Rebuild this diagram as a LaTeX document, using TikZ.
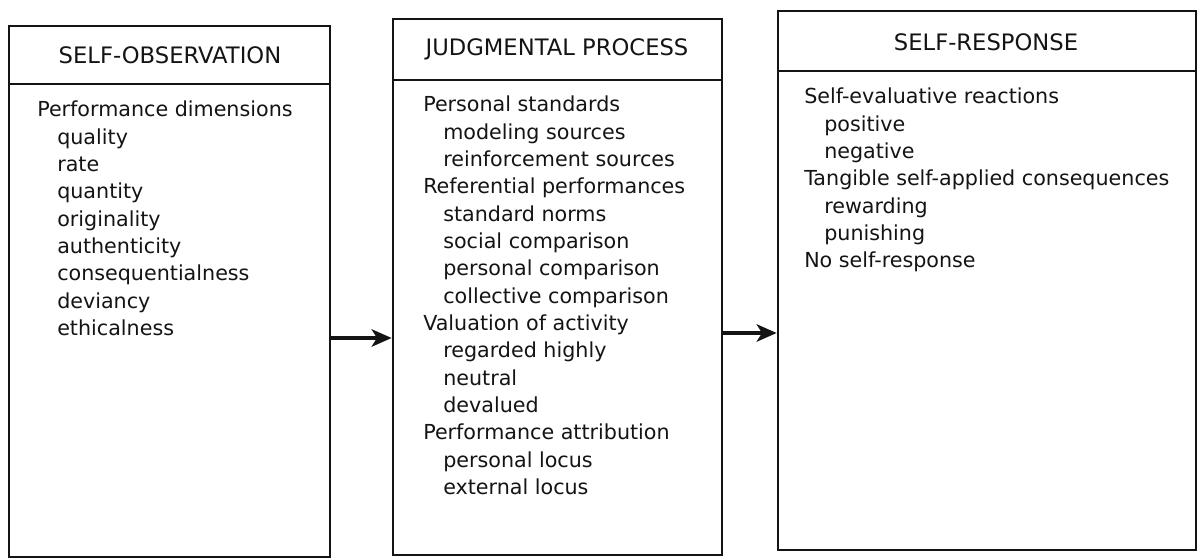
\documentclass[tikz,border=0pt]{standalone}
\usepackage{fontspec}
\setmainfont{DejaVu Sans}
\usetikzlibrary{arrows.meta,fit}
\definecolor{ink}{rgb}{0.08,0.08,0.08}
\newcommand\itemgap{\hspace*{15pt}}
\begin{document}
\begin{tikzpicture}[x=0.75pt,y=-0.75pt,
  stage/.style={draw=ink,line width=2pt,inner sep=0pt},
  rule/.style={draw=ink,line width=1.8pt},
  title/.style={font=\fontsize{17}{20}\selectfont,text=ink,inner sep=0pt},
  items/.style={font=\fontsize{15.5}{20.5}\selectfont,text=ink,align=left,
                anchor=north west,inner sep=0pt},
  flow/.style={draw=ink,line width=2.6pt,-{Stealth[length=15pt,width=13pt,inset=4pt]}}]
\useasboundingbox[fill=white] (0,0) rectangle (1203,560);

% three stage boxes
\node[stage, fit={(9,26) (330,557)}] (obs) {};
\node[stage, fit={(393,19) (722,555)}] (jud) {};
\node[stage, fit={(778,11) (1196,550)}] (resp) {};

% header dividers
\draw[rule] (obs.west |- 0,84) -- (obs.east |- 0,84);
\draw[rule] (jud.west |- 0,80) -- (jud.east |- 0,80);
\draw[rule] (resp.west |- 0,71) -- (resp.east |- 0,71);

% headers
\node[title] (obsTitle) at (170,55) {SELF-OBSERVATION};
\node[title] (judTitle) at (557,49) {JUDGMENTAL PROCESS};
\node[title] (respTitle) at (986,42) {SELF-RESPONSE};

% contents
\node[items] (obsList) at (37,101) {Performance dimensions\\
  \itemgap quality\\
  \itemgap rate\\
  \itemgap quantity\\
  \itemgap originality\\
  \itemgap authenticity\\
  \itemgap consequentialness\\
  \itemgap deviancy\\
  \itemgap ethicalness};

\node[items] (judList) at (423,96) {Personal standards\\
  \itemgap modeling sources\\
  \itemgap reinforcement sources\\
  Referential performances\\
  \itemgap standard norms\\
  \itemgap social comparison\\
  \itemgap personal comparison\\
  \itemgap collective comparison\\
  Valuation of activity\\
  \itemgap regarded highly\\
  \itemgap neutral\\
  \itemgap devalued\\
  Performance attribution\\
  \itemgap personal locus\\
  \itemgap external locus};

\node[items] (respList) at (804,88) {Self-evaluative reactions\\
  \itemgap positive\\
  \itemgap negative\\
  Tangible self-applied consequences\\
  \itemgap rewarding\\
  \itemgap punishing\\
  No self-response};

% flow between stages
\draw[flow] (obs.east |- 0,338) -- (jud.west |- 0,338);
\draw[flow] (jud.east |- 0,333) -- (resp.west |- 0,333);
\end{tikzpicture}
\end{document}
